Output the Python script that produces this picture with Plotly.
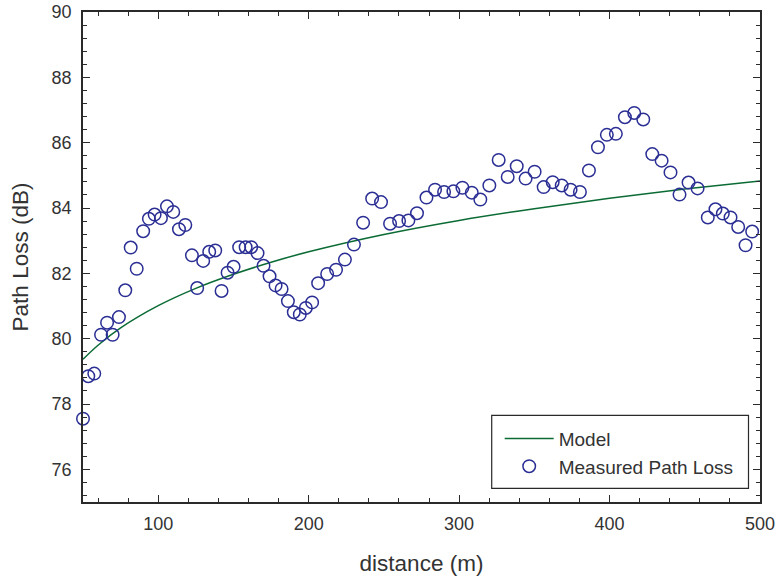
import plotly.graph_objects as go

distance_m = [50, 53.5, 57.5, 62, 66, 69.7, 73.9, 78.1, 81.7, 85.7,
              90, 93.8, 97.6, 101.8, 105.8, 110, 113.8, 118, 122.4, 125.9,
              129.9, 133.9, 137.9, 142.1, 146.1, 150.1, 153.8, 158.1, 161.8, 166,
              170, 174, 178, 182, 186.2, 190.1, 194.1, 198.1, 202.3, 206.3,
              212.3, 218.2, 224.1, 230.1, 236.2, 242.2, 248.1, 254.1, 260.1, 266.3,
              272, 278.3, 284, 290, 296.2, 302.2, 308.4, 314.1, 320.1, 326.3,
              332.3, 338.3, 344.2, 350.2, 356.2, 362.2, 368.2, 374.1, 380.3, 386.3,
              392.3, 398.2, 404.2, 410.2, 416.4, 422.4, 428.4, 434.6, 440.5, 446.5,
              452.5, 458.5, 465.3, 470.4, 475.3, 480.4, 485.5, 490.4, 494.8]
measured_loss_db = [77.55, 78.85, 78.93, 80.12, 80.49, 80.12, 80.66, 81.48, 82.79, 82.14,
                    83.29, 83.67, 83.80, 83.69, 84.05, 83.88, 83.35, 83.48, 82.55, 81.55,
                    82.38, 82.66, 82.70, 81.46, 82.02, 82.20, 82.80, 82.80, 82.80, 82.62,
                    82.23, 81.91, 81.63, 81.52, 81.15, 80.81, 80.74, 80.94, 81.11, 81.70,
                    81.98, 82.11, 82.42, 82.88, 83.55, 84.29, 84.18, 83.52, 83.60, 83.62,
                    83.84, 84.32, 84.56, 84.49, 84.51, 84.62, 84.47, 84.26, 84.69, 85.47,
                    84.95, 85.28, 84.90, 85.11, 84.64, 84.79, 84.69, 84.56, 84.49, 85.15,
                    85.86, 86.24, 86.27, 86.78, 86.91, 86.71, 85.65, 85.45, 85.09, 84.41,
                    84.78, 84.60, 83.71, 83.96, 83.83, 83.71, 83.42, 82.86, 83.28]

# Model curve (values at several distances)
model_distance_m = [50, 60, 75, 100, 125, 150, 175, 200, 250, 300, 350, 400, 450, 500]
model_loss_db = [79.37, 79.80, 80.33, 81.01, 81.54, 81.97, 82.34, 82.66, 83.19, 83.62,
                 83.98, 84.30, 84.58, 84.83]

x_ticks = [100, 200, 300, 400, 500]
y_ticks = [76, 78, 80, 82, 84, 86, 88, 90]

FONT = "Liberation Sans, Arial, sans-serif"
AX = "#2a2a2a"

fig = go.Figure()
fig.add_trace(go.Scatter(
    x=model_distance_m, y=model_loss_db, mode="lines", name="Model",
    line=dict(color="#0b6b35", width=1.5, shape="spline"),
))
fig.add_trace(go.Scatter(
    x=distance_m, y=measured_loss_db, mode="markers", name="Measured Path Loss",
    marker=dict(symbol="circle-open", size=12.5, color="#2b2f94", line=dict(width=1.5, color="#2b2f94")),
    cliponaxis=False,
))

axis_common = dict(
    showgrid=False, zeroline=False, showline=True, linecolor=AX, linewidth=1.5,
    mirror="ticks", ticks="inside", ticklen=7, tickwidth=1, tickcolor=AX,
    tickfont=dict(family=FONT, size=18, color="#333333"), automargin=False,
)

fig.update_xaxes(
    range=[50, 500], tickvals=x_ticks, ticktext=[str(v) for v in x_ticks],
    minor=dict(dtick=20, tick0=0, ticks="inside", ticklen=4, tickcolor=AX, showgrid=False),
    title=dict(text="distance (m)", font=dict(family=FONT, size=22.5, color="#333333"), standoff=22),
    ticklabelstandoff=5,
    **axis_common,
)
fig.update_yaxes(
    range=[75, 90], tickvals=y_ticks, ticktext=[str(v) for v in y_ticks],
    minor=dict(dtick=0.4, tick0=0, ticks="inside", ticklen=4, tickcolor=AX, showgrid=False),
    title=dict(text="Path Loss (dB)", font=dict(family=FONT, size=22.5, color="#333333"), standoff=17),
    ticklabelstandoff=6,
    **axis_common,
)

fig.add_shape(type="rect", xref="paper", yref="paper",
              x0=0.6037, x1=0.983, y0=0.0278, y1=0.1767,
              line=dict(color=AX, width=1.2), fillcolor="white", layer="below")

fig.update_layout(
    width=778, height=578,
    margin=dict(l=83, r=18, t=12, b=76),
    paper_bgcolor="white", plot_bgcolor="white",
    showlegend=True,
    legend=dict(x=0.6155, y=0.168, xanchor="left", yanchor="top",
                bgcolor="rgba(0,0,0,0)", borderwidth=0,
                font=dict(family=FONT, size=19, color="#333333"),
                itemwidth=49, tracegroupgap=0),
)

fig.write_html("out.html", config={"displayModeBar": False},
               post_script="document.body.style.margin='0';")
